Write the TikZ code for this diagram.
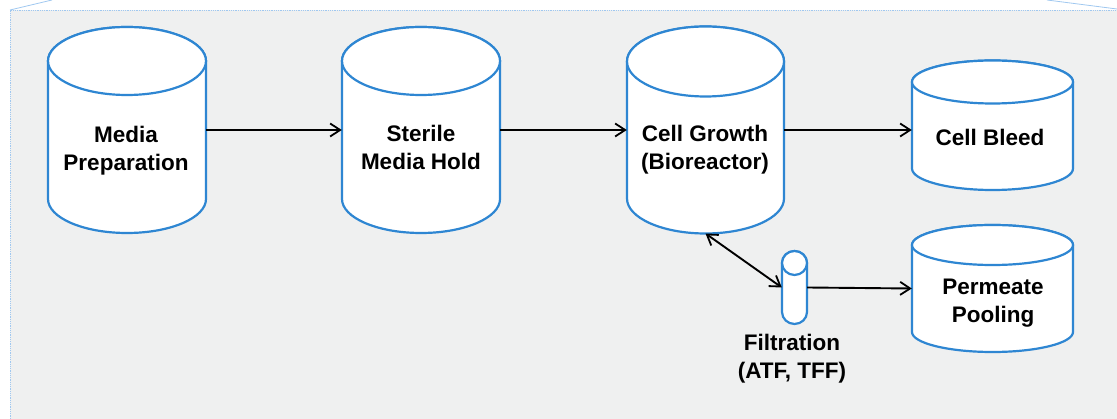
\documentclass[tikz,border=0pt]{standalone}
\usepackage{fontspec}
\setmainfont{Liberation Sans}
\usetikzlibrary{arrows.meta}

\definecolor{tankblue}{RGB}{46,134,210}
\definecolor{panelgray}{RGB}{239,240,240}
\definecolor{panelline}{RGB}{160,200,240}

\tikzset{
  tankline/.style={draw=tankblue, fill=white, line width=2.2pt},
  flow/.style={draw=black, line width=1.9pt,
    -{Straight Barb[length=10pt,width=13pt,line width=1.8pt]}},
  bothflow/.style={draw=black, line width=1.9pt,
    {Straight Barb[length=10pt,width=13pt,line width=1.8pt]}-{Straight Barb[length=10pt,width=13pt,line width=1.8pt]}},
  label/.style={font=\bfseries\fontsize{22.5}{28}\selectfont, align=center, inner sep=0pt, text=black}
}

% \tank{name}{cx}{top centre y}{bottom centre y}{x radius}{y radius}
\newcommand\tank[6]{%
  \filldraw[tankline] ({#2-#5},#3) -- ({#2-#5},#4)
    arc[start angle=180, end angle=360, x radius=#5pt, y radius=#6pt]
    -- ({#2+#5},#3)
    arc[start angle=0, end angle=180, x radius=#5pt, y radius=#6pt] -- cycle;
  \filldraw[tankline] (#2,#3) ellipse[x radius=#5pt, y radius=#6pt];
  \node[inner sep=0pt, minimum width={2*#5pt}, minimum height={(#4-#3)*1pt}]
    (#1) at (#2,{(#3+#4)/2}) {};
  \coordinate (#1-b) at (#2,{#4+#6});
}

\begin{document}
\begin{tikzpicture}[x=1pt, y=-1pt]
  \useasboundingbox (0,0) rectangle (1117,419);

  % panel
  \fill[panelgray] (10,10) rectangle (1117,419);
  \draw[panelline, line width=0.8pt, densely dotted] (10,419) -- (10,10) -- (1117,10);
  \draw[panelline, line width=0.8pt] (10,10) -- (52,0);
  \draw[panelline, line width=0.8pt] (1047,0) -- (1117,9);

  % vessels
  \tank{mp}{127}{61}{199}{79}{34}
  \tank{smh}{421}{61}{199}{79}{34}
  \tank{cg}{705.5}{61.5}{198.5}{78.5}{35}
  \tank{cb}{992.5}{82}{168.5}{80.5}{21.5}
  \tank{pp}{992.5}{245}{332}{80.5}{20}
  \tank{filt}{794.5}{263}{312}{12.5}{12}

  % labels
  \node[label] (tmp) at (126,150.4) {Media\\Preparation};
  \node[label] (tsmh) at (421,147.6) {Sterile\\Media Hold};
  \node[label] (tcg) at (705,149.6) {Cell Growth\\(Bioreactor)};
  \node[label] (tcb) at (990,137.5) {Cell Bleed};
  \node[label] (tpp) at (993,303) {Permeate\\Pooling};
  \node[label] (tfilt) at (792,358.6) {Filtration\\(ATF, TFF)};

  % flows
  \draw[flow] (mp.east) -- (smh.west);
  \draw[flow] (smh.east) -- (cg.west);
  \draw[flow] (cg.east) -- (cb.west |- cg.east);
  \draw[flow] (filt.east) -- (pp.west);
  \draw[bothflow] (cg-b) -- (filt.west);
\end{tikzpicture}
\end{document}
